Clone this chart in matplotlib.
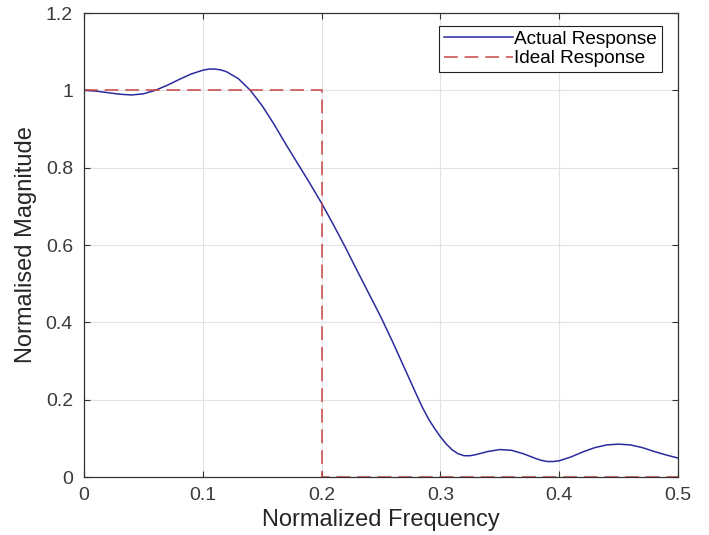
import matplotlib
matplotlib.use('Agg')
import matplotlib.pyplot as plt

# values
freq = [0.00, 0.01, 0.02, 0.03, 0.04, 0.05, 0.06, 0.07, 0.08, 0.09,
        0.10, 0.105, 0.11, 0.115, 0.12, 0.13, 0.14, 0.15, 0.16, 0.17, 0.18, 0.19,
        0.20, 0.21, 0.22, 0.23, 0.24, 0.25, 0.26, 0.27, 0.28, 0.285, 0.29,
        0.295, 0.30, 0.305, 0.31, 0.315, 0.32, 0.325, 0.33, 0.34, 0.35, 0.36,
        0.37, 0.38, 0.385, 0.39, 0.395, 0.40, 0.41, 0.42, 0.43, 0.44, 0.45,
        0.46, 0.47, 0.48, 0.49, 0.50]
actual = [1.000, 0.998, 0.994, 0.990, 0.988, 0.991, 1.000, 1.013, 1.028, 1.042,
          1.052, 1.055, 1.055, 1.053, 1.048, 1.030, 1.000, 0.960, 0.912, 0.860, 0.810, 0.760,
          0.708, 0.652, 0.594, 0.533, 0.473, 0.413, 0.348, 0.280, 0.212, 0.179, 0.150,
          0.126, 0.104, 0.085, 0.070, 0.060, 0.055, 0.055, 0.058, 0.066, 0.071, 0.069,
          0.060, 0.048, 0.043, 0.040, 0.040, 0.042, 0.052, 0.065, 0.076, 0.083, 0.085,
          0.083, 0.076, 0.066, 0.057, 0.049]

ideal_freq = [0.0, 0.2, 0.2, 0.5]
ideal = [1.0, 1.0, 0.0, 0.0]

x_ticks = [0, 0.1, 0.2, 0.3, 0.4, 0.5]
x_labels = ['0', '0.1', '0.2', '0.3', '0.4', '0.5']
y_ticks = [0, 0.2, 0.4, 0.6, 0.8, 1.0, 1.2]
y_labels = ['0', '0.2', '0.4', '0.6', '0.8', '1', '1.2']

plt.rcParams['font.family'] = ['Liberation Sans', 'DejaVu Sans']

fig = plt.figure(figsize=(7.09, 5.35), dpi=100)
ax = fig.add_axes([0.1185, 0.1084, 0.8378, 0.8673])

ax.plot(freq, actual, color='#2b2b9e', linewidth=1.1, label='Actual Response')
ax.plot(ideal_freq, ideal, color='#c84646', linewidth=1.1, dashes=(9, 4.5),
        label='Ideal Response')

ax.set_xlim(0, 0.5)
ax.set_ylim(0, 1.2)
ax.set_xticks(x_ticks)
ax.set_xticklabels(x_labels)
ax.set_yticks(y_ticks)
ax.set_yticklabels(y_labels)

ax.grid(True, color='#e3e3e3', linewidth=0.8)
ax.set_axisbelow(True)
for s in ax.spines.values():
    s.set_color('#333333')
    s.set_linewidth(0.9)
ax.tick_params(direction='in', length=4, width=0.8, color='#333333',
               labelcolor='#3a3a3a', labelsize=14, top=True, right=True)
ax.tick_params(axis='x', pad=7)
ax.tick_params(axis='y', pad=8)

ax.set_xlabel('Normalized Frequency', fontsize=17, color='#262626', labelpad=4)
ax.set_ylabel('Normalised Magnitude', fontsize=17, color='#262626', labelpad=6)

leg = ax.legend(loc='upper right', bbox_to_anchor=(0.973, 0.972), borderaxespad=0,
                fontsize=13.7, fancybox=False, framealpha=1, edgecolor='#222222',
                handlelength=3.6, handletextpad=0.1, labelspacing=0.1,
                borderpad=0.25)
leg.get_frame().set_linewidth(0.8)

plt.savefig('out.png', dpi=100, facecolor='white')
